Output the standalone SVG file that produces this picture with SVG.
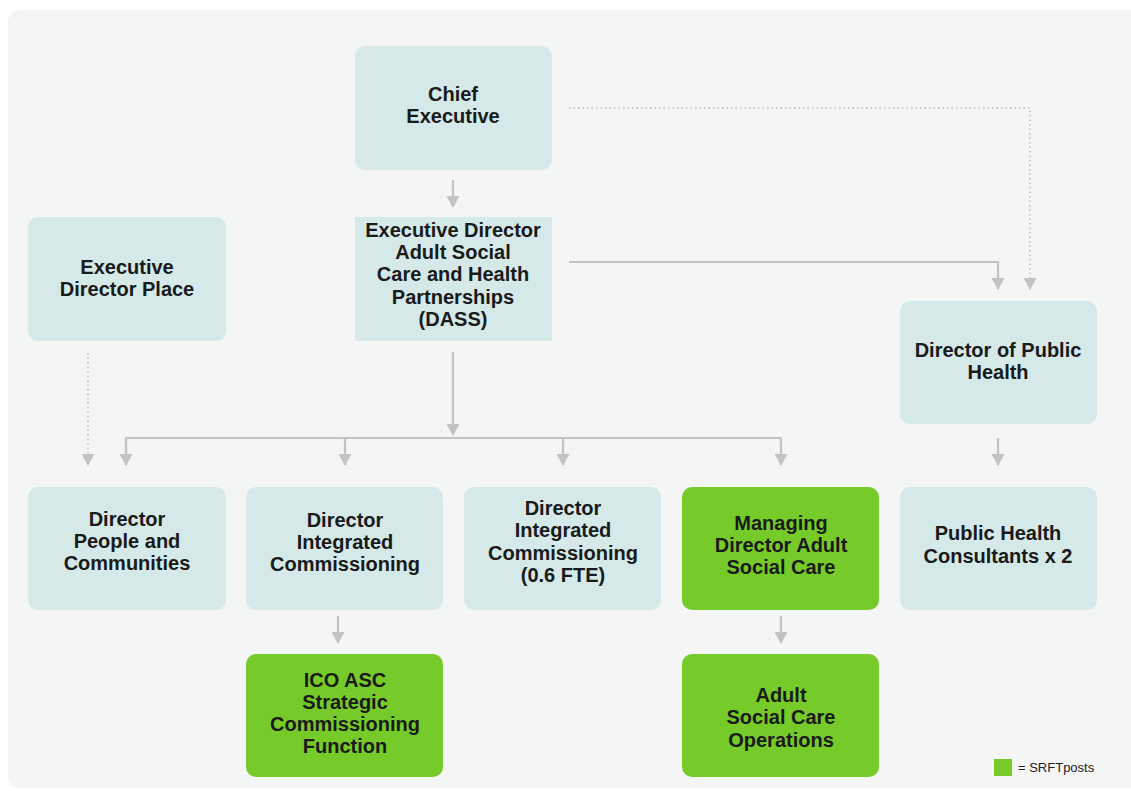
<svg xmlns="http://www.w3.org/2000/svg" width="1131" height="791" viewBox="0 0 1131 791">
<defs>
<style>
.box{fill:#d4e9e8}
.green{fill:#76cb2a}
.t{font-family:"Liberation Sans",Arial,sans-serif;font-weight:bold;font-size:20px;fill:#1a1a1a;text-anchor:middle}
.ln{stroke:#c3c3c3;stroke-width:2.2;fill:none}
.dot{stroke:#bdbdbd;stroke-width:1.5;fill:none;stroke-dasharray:1.5 3}
.lg{font-family:"Liberation Sans",Arial,sans-serif;font-size:13px;fill:#222}
</style>
<marker id="ahd" markerUnits="userSpaceOnUse" markerWidth="12" markerHeight="13" refX="11" refY="6.5" orient="auto" viewBox="0 0 12 13">
<path d="M0,0 L12,6.5 L0,13 Z" fill="#c3c3c3"/>
</marker>
</defs>
<rect x="0" y="0" width="1131" height="791" fill="#ffffff"/>
<rect x="8" y="10" width="1135" height="778" rx="12" fill="#f4f6f6"/>

<g id="connectors">
<line class="ln" x1="453" y1="180" x2="453" y2="207" marker-end="url(#ahd)"/>
<polyline class="ln" points="569,262 998,262 998,289" marker-end="url(#ahd)"/>
<polyline class="dot" points="569,108 1030,108 1030,289" marker-end="url(#ahd)"/>
<line class="ln" x1="453" y1="352" x2="453" y2="435" marker-end="url(#ahd)"/>
<polyline class="ln" points="126,465 126,438 781,438 781,465" marker-end="url(#ahd)"/>
<line class="ln" x1="126" y1="438" x2="126" y2="465" marker-end="url(#ahd)"/>
<line class="ln" x1="345" y1="438" x2="345" y2="465" marker-end="url(#ahd)"/>
<line class="ln" x1="563" y1="438" x2="563" y2="465" marker-end="url(#ahd)"/>
<line class="dot" x1="88" y1="353" x2="88" y2="465" marker-end="url(#ahd)"/>
<line class="ln" x1="998" y1="438" x2="998" y2="465" marker-end="url(#ahd)"/>
<line class="ln" x1="338" y1="616" x2="338" y2="643" marker-end="url(#ahd)"/>
<line class="ln" x1="781" y1="616" x2="781" y2="643" marker-end="url(#ahd)"/>
</g>

<g id="chief">
<rect class="box" x="355" y="46" width="197" height="124" rx="10"/>
<text class="t" x="453" y="101">Chief</text>
<text class="t" x="453" y="123">Executive</text>
</g>
<g id="exec-asc">
<rect class="box" x="355" y="217" width="197" height="124"/>
<text class="t" x="453" y="237">Executive Director</text>
<text class="t" x="453" y="259">Adult Social</text>
<text class="t" x="453" y="281">Care and Health</text>
<text class="t" x="453" y="304">Partnerships</text>
<text class="t" x="453" y="326">(DASS)</text>
</g>
<g id="exec-place">
<rect class="box" x="28" y="217" width="198" height="124" rx="10"/>
<text class="t" x="127" y="274">Executive</text>
<text class="t" x="127" y="296">Director Place</text>
</g>
<g id="dph">
<rect class="box" x="900" y="301" width="197" height="123" rx="10"/>
<text class="t" x="998" y="357">Director of Public</text>
<text class="t" x="998" y="379">Health</text>
</g>
<g id="dir-people">
<rect class="box" x="28" y="487" width="198" height="123" rx="10"/>
<text class="t" x="127" y="526">Director</text>
<text class="t" x="127" y="548">People and</text>
<text class="t" x="127" y="570">Communities</text>
</g>
<g id="dir-ic">
<rect class="box" x="246" y="487" width="197" height="123" rx="10"/>
<text class="t" x="345" y="527">Director</text>
<text class="t" x="345" y="549">Integrated</text>
<text class="t" x="345" y="571">Commissioning</text>
</g>
<g id="dir-ic-06">
<rect class="box" x="464" y="487" width="197" height="123" rx="10"/>
<text class="t" x="563" y="515">Director</text>
<text class="t" x="563" y="537">Integrated</text>
<text class="t" x="563" y="560">Commissioning</text>
<text class="t" x="563" y="582">(0.6 FTE)</text>
</g>
<g id="md-asc">
<rect class="green" x="682" y="487" width="197" height="123" rx="10"/>
<text class="t" x="781" y="530">Managing</text>
<text class="t" x="781" y="552">Director Adult</text>
<text class="t" x="781" y="574">Social Care</text>
</g>
<g id="phc">
<rect class="box" x="900" y="487" width="197" height="123" rx="10"/>
<text class="t" x="998" y="540">Public Health</text>
<text class="t" x="998" y="563">Consultants x 2</text>
</g>
<g id="ico-asc">
<rect class="green" x="246" y="654" width="197" height="123" rx="10"/>
<text class="t" x="345" y="687">ICO ASC</text>
<text class="t" x="345" y="709">Strategic</text>
<text class="t" x="345" y="731">Commissioning</text>
<text class="t" x="345" y="753">Function</text>
</g>
<g id="asc-ops">
<rect class="green" x="682" y="654" width="197" height="123" rx="10"/>
<text class="t" x="781" y="702">Adult</text>
<text class="t" x="781" y="724">Social Care</text>
<text class="t" x="781" y="747">Operations</text>
</g>
<g id="legend">
<rect class="green" x="994" y="759" width="18" height="17"/>
<text class="lg" x="1018" y="772">= SRFTposts</text>
</g>
</svg>
